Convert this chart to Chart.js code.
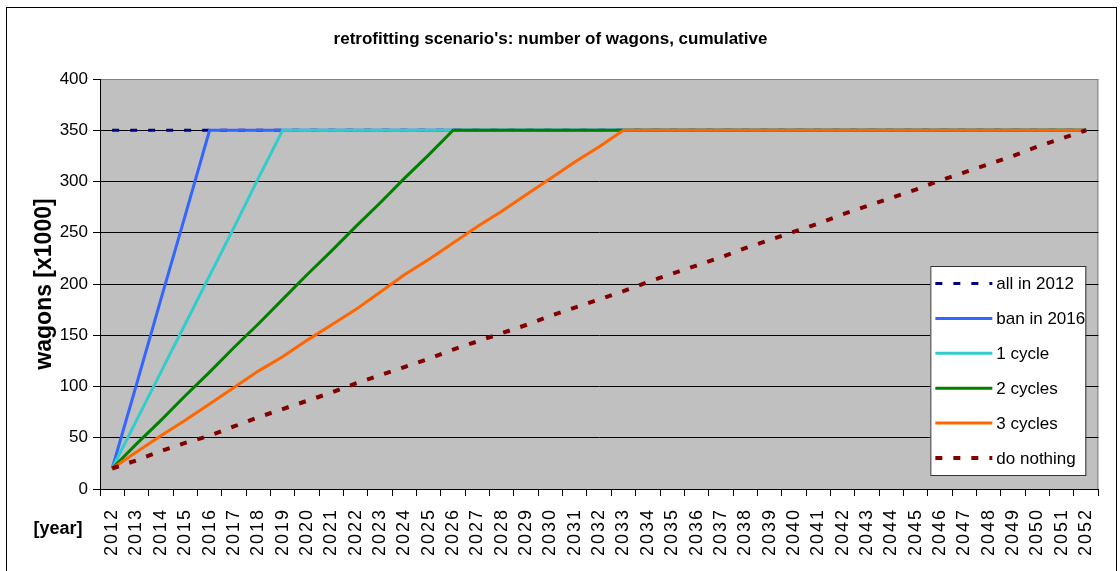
<!DOCTYPE html>
<html>
<head>
<meta charset="utf-8">
<title>retrofitting scenario's</title>
<script src="https://cdn.jsdelivr.net/npm/chart.js@4.4.1/dist/chart.umd.min.js"></script>
<style>
  html, body { margin: 0; padding: 0; background: #fff; }
  #wrap { position: relative; width: 1120px; height: 571px; }
</style>
</head>
<body>
<div id="wrap"><canvas id="chart" width="1120" height="571"></canvas></div>
<script>
// categories
const years = ['2012', '2013', '2014', '2015', '2016', '2017', '2018', '2019', '2020', '2021',
  '2022', '2023', '2024', '2025', '2026', '2027', '2028', '2029', '2030', '2031',
  '2032', '2033', '2034', '2035', '2036', '2037', '2038', '2039', '2040', '2041',
  '2042', '2043', '2044', '2045', '2046', '2047', '2048', '2049', '2050', '2051', '2052'];

// series (wagons x1000, cumulative)
const allIn2012 = [350, 350, 350, 350, 350, 350, 350, 350, 350, 350,
  350, 350, 350, 350, 350, 350, 350, 350, 350, 350,
  350, 350, 350, 350, 350, 350, 350, 350, 350, 350,
  350, 350, 350, 350, 350, 350, 350, 350, 350, 350, 350];
const banIn2016 = [20, 102, 185, 267, 350, 350, 350, 350, 350, 350,
  350, 350, 350, 350, 350, 350, 350, 350, 350, 350,
  350, 350, 350, 350, 350, 350, 350, 350, 350, 350,
  350, 350, 350, 350, 350, 350, 350, 350, 350, 350, 350];
const oneCycle = [20, 67, 114, 161, 208, 255, 303, 350, 350, 350,
  350, 350, 350, 350, 350, 350, 350, 350, 350, 350,
  350, 350, 350, 350, 350, 350, 350, 350, 350, 350,
  350, 350, 350, 350, 350, 350, 350, 350, 350, 350, 350];
const twoCycles = [20, 44, 67, 91, 114, 138, 161, 185, 209, 232,
  256, 279, 303, 326, 350, 350, 350, 350, 350, 350,
  350, 350, 350, 350, 350, 350, 350, 350, 350, 350,
  350, 350, 350, 350, 350, 350, 350, 350, 350, 350, 350];
const threeCycles = [20, 36, 52, 67, 83, 99, 115, 129, 145, 160,
  175, 192, 209, 224, 240, 256, 271, 287, 303, 319,
  334, 350, 350, 350, 350, 350, 350, 350, 350, 350,
  350, 350, 350, 350, 350, 350, 350, 350, 350, 350, 350];
const doNothing = [20, 28, 37, 45, 52, 61, 70, 78, 86, 94,
  103, 111, 119, 127, 136, 144, 152, 160, 169, 177,
  185, 193, 202, 210, 218, 226, 235, 243, 251, 259,
  268, 276, 284, 292, 301, 309, 317, 325, 334, 342, 350];

const yTicks = [0, 50, 100, 150, 200, 250, 300, 350, 400];

const FONT = "Arial, 'Liberation Sans', sans-serif";

// grey plot background + outer frame + [year] label
const backdrop = {
  id: 'backdrop',
  beforeDraw(chart) {
    const { ctx, chartArea: a } = chart;
    ctx.save();
    ctx.fillStyle = '#fff';
    ctx.fillRect(0, 0, chart.width, chart.height);
    ctx.strokeStyle = '#000';
    ctx.lineWidth = 1;
    ctx.strokeRect(6.5, 7.5, 1110, 600);
    ctx.fillStyle = '#c0c0c0';
    ctx.fillRect(a.left, a.top, a.right - a.left, a.bottom - a.top);
    ctx.strokeStyle = '#808080';
    ctx.strokeRect(a.left + 0.5, a.top + 0.5, a.right - a.left - 1, a.bottom - a.top);
    ctx.restore();
  },
  afterDraw(chart) {
    const { ctx } = chart;
    ctx.save();
    ctx.fillStyle = '#000';
    ctx.font = 'bold 18px ' + FONT;
    ctx.textAlign = 'center';
    ctx.textBaseline = 'middle';
    ctx.fillText('[year]', 58, 529);
    ctx.restore();
  }
};

// spaced-out year labels like the original
const spacedTicks = {
  id: 'spacedTicks',
  beforeDraw(chart) {
    const sc = chart.scales.x;
    if (sc._spaced) return;
    const orig = sc.drawLabels;
    sc.drawLabels = function (area) {
      chart.ctx.save();
      chart.ctx.letterSpacing = '2px';
      orig.call(this, area);
      chart.ctx.restore();
    };
    sc._spaced = true;
  }
};

// legend box inside the plot, right side
const insideLegend = {
  id: 'insideLegend',
  afterDraw(chart) {
    const { ctx, chartArea: a } = chart;
    const x0 = a.right - 168, y0 = 266, w = 155, rowH = 34.9;
    const h = 209;
    ctx.save();
    ctx.fillStyle = '#fff';
    ctx.fillRect(x0, y0, w, h);
    ctx.strokeStyle = '#333';
    ctx.lineWidth = 1;
    ctx.strokeRect(x0 + 0.5, y0 + 0.5, w, h);
    chart.data.datasets.forEach((ds, i) => {
      const y = y0 + 17.5 + i * rowH;
      ctx.strokeStyle = ds.borderColor;
      ctx.lineWidth = ds.borderWidth;
      ctx.setLineDash(ds.borderDash || []);
      ctx.beginPath();
      ctx.moveTo(x0 + 5, y);
      ctx.lineTo(x0 + 62, y);
      ctx.stroke();
      ctx.setLineDash([]);
      ctx.fillStyle = '#000';
      ctx.font = '17px ' + FONT;
      ctx.textAlign = 'left';
      ctx.textBaseline = 'middle';
      ctx.fillText(ds.label, x0 + 66, y + 1);
    });
    ctx.restore();
  }
};

function line(label, data, color, width, dash, order) {
  return {
    label, data,
    borderColor: color,
    backgroundColor: color,
    borderWidth: width,
    borderDash: dash,
    borderCapStyle: 'butt',
    pointRadius: 0,
    tension: 0,
    fill: false,
    order
  };
}

new Chart(document.getElementById('chart'), {
  type: 'line',
  data: {
    labels: years,
    datasets: [
      line('all in 2012', allIn2012, '#000080', 3, [7, 11], 5),
      line('ban in 2016', banIn2016, '#3366ff', 3, [], 4),
      line('1 cycle', oneCycle, '#33cccc', 3, [], 3),
      line('2 cycles', twoCycles, '#008000', 3, [], 2),
      line('3 cycles', threeCycles, '#ff6600', 3, [], 1),
      line('do nothing', doNothing, '#800000', 4, [7, 11], 0)
    ]
  },
  options: {
    responsive: false,
    animation: false,
    layout: { padding: { left: 0, right: 19, top: 0, bottom: 0 } },
    plugins: {
      legend: { display: false },
      tooltip: { enabled: false },
      title: {
        display: true,
        text: "retrofitting scenario's: number of wagons, cumulative",
        color: '#000',
        font: { family: FONT, size: 17, weight: 'bold' },
        padding: { top: 29, bottom: 29.6 }
      }
    },
    scales: {
      x: {
        type: 'category',
        offset: true,
        grid: { offset: true, drawOnChartArea: false, drawTicks: true, tickLength: 7, color: '#000' },
        border: { color: '#000', width: 1 },
        ticks: {
          autoSkip: false, minRotation: 90, maxRotation: 90,
          color: '#000', padding: 12,
          font: { family: FONT, size: 18 }
        },
        afterFit(scale) { scale.height = 82; }
      },
      y: {
        min: 0, max: 400,
        afterBuildTicks(scale) { scale.ticks = yTicks.map(v => ({ value: v })); },
        grid: {
          color: ctx => (ctx.tick && ctx.tick.value === 400 ? '#808080' : '#000'),
          tickColor: '#000',
          tickLength: 7, lineWidth: 1
        },
        border: { color: '#000', width: 1 },
        ticks: { color: '#000', padding: 5, font: { family: FONT, size: 17 } },
        title: {
          display: true,
          text: 'wagons [x1000]',
          color: '#000',
          font: { family: FONT, size: 23, weight: 'bold' },
          padding: { top: 31, bottom: 0 }
        },
        afterFit(scale) { scale.width = 100; }
      }
    }
  },
  plugins: [backdrop, spacedTicks, insideLegend]
});
</script>
</body>
</html>
